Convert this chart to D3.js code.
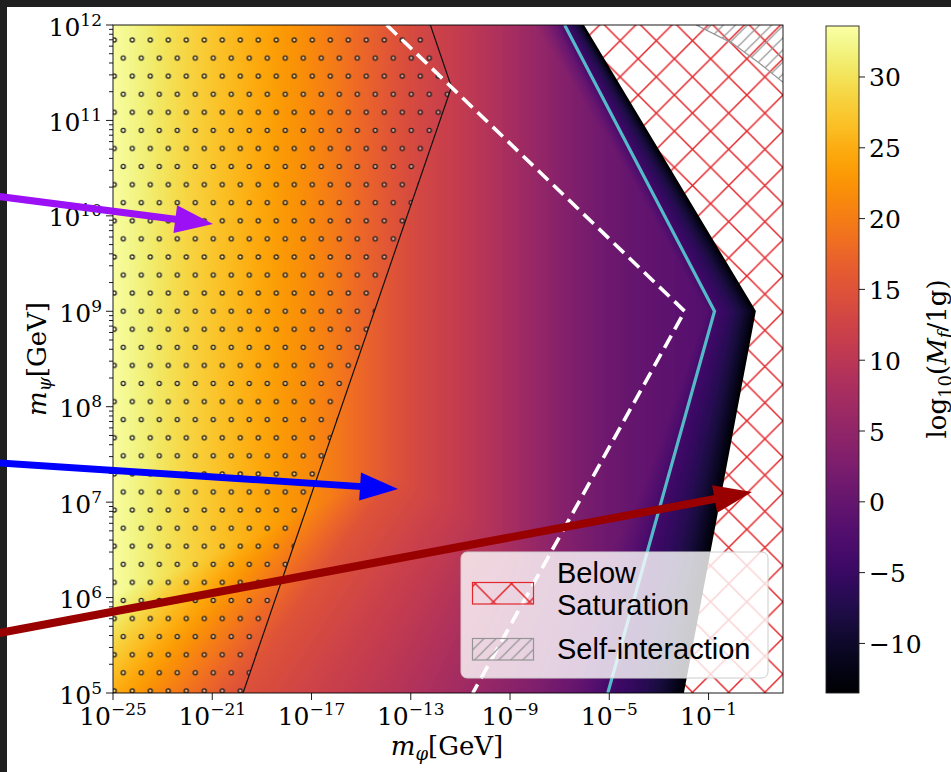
<!DOCTYPE html>
<html><head><meta charset="utf-8">
<script src="https://cdn.jsdelivr.net/npm/d3@7"></script>
<style>html,body{margin:0;padding:0;background:#fff;} svg{display:block;}</style>
</head><body>
<svg id="chart" width="951" height="772"></svg>
<script>
// ---------------- data ----------------
const xTickExps = [-25, -21, -17, -13, -9, -5, -1];
const yTickExps = [5, 6, 7, 8, 9, 10, 11, 12];
const cbTicks = [-10, -5, 0, 5, 10, 15, 20, 25, 30];
const cbRange = [-13.5, 33.6];
// log10(M_f/1g) read along m_phi (log10 GeV), away from the saturation edge
const baseX = [-25,-24,-23,-22,-21,-20,-19,-18,-17,-16,-15,-14,-13,-12,-11,-10,-9,-8,-7,-6,-5,-4,-3,-2,-1,0,1,2];
const baseV = [33.3,31.8,30.2,28.7,27.3,25.8,24.3,22.8,21.3,19.6,17.6,15.6,13.8,12.4,11.0,9.4,7.6,5.7,3.9,2.3,0.9,-0.1,-0.8,-1.4,-2.1,-2.8,-3.4,-4.0];
// log10(M_f/1g) across the edge: s = 0 on the saturation edge, s = 1 on the cyan contour
const edgeS = [0, 0.25, 0.5, 0.75, 1, 1.25, 1.5, 2, 2.5, 3, 4, 6, 10];
const edgeV = [-12.8, -9.4, -7.0, -5.3, -3.8, -1.6, 0.3, 3, 5, 7, 10, 15, 40];
// curves, [log10 m_phi, log10 m_psi]
const satBoundary = [[-6.07, 12], [0.86, 9], [-2.04, 5]];
const cyanLine = [[-6.8, 12], [-0.76, 9], [-5.06, 5]];
const whiteDashed = [[-13.97, 12], [-1.96, 9], [-10.5, 5]];
const dotContour = [[-12.21, 12], [-11.36, 11.35], [-19.76, 5]];
const selfInt = [[-1.5, 12], [-0.05, 11.81], [1.05, 11.6], [2, 11.4]];
const arrowDefs = [
  {color: "#9b10f5", width: 7, from: [-29.8, 10.21], to: [-20.97, 9.914]},
  {color: "#0000ff", width: 7, from: [-29.8, 7.414], to: [-13.515, 7.138]},
  {color: "#990000", width: 8, from: [-29.8, 5.618], to: [0.751, 7.106]}
];
const legendItems = [
  {lines: ["Below", "Saturation"], kind: "red"},
  {lines: ["Self-interaction"], kind: "gray"}
];

// ---------------- setup ----------------
const W = 951, H = 772;
const M = {left: 113, right: 783, top: 25, bottom: 693};
const xS = d3.scaleLog().domain([1e-25, 1e2]).range([M.left, M.right]);
const yS = d3.scaleLog().domain([1e5, 1e12]).range([M.bottom, M.top]);
const cS = d3.scaleLinear().domain(cbRange).range([M.bottom, M.top + 1]);
const color = d3.scaleSequential(d3.interpolateInferno).domain(cbRange);
const P = p => [xS(Math.pow(10, p[0])), yS(Math.pow(10, p[1]))];
const serif = "DejaVu Serif";
const sans = "Liberation Sans";

const svg = d3.select("#chart");
const defs = svg.append("defs");

// patterns
const dots = defs.append("pattern").attr("id", "dots").attr("patternUnits", "userSpaceOnUse")
  .attr("x", 114.3).attr("y", 40).attr("width", 18).attr("height", 36.16);
[[0,0],[18,0],[0,36.16],[18,36.16],[9,18.08]].forEach(c =>
  dots.append("circle").attr("cx", c[0]).attr("cy", c[1]).attr("r", 2.0)
    .attr("fill", "rgba(255,255,255,0.45)").attr("stroke", "#1e1e1e").attr("stroke-width", 1.3));

const redX = defs.append("pattern").attr("id", "redX").attr("patternUnits", "userSpaceOnUse")
  .attr("x", 783).attr("y", 95).attr("width", 36.2).attr("height", 36.2);
redX.append("path").attr("d", "M-1,-1L37.2,37.2M37.2,-1L-1,37.2")
  .attr("stroke", "#e3262b").attr("stroke-width", 1.5).attr("fill", "none");

const grayH = defs.append("pattern").attr("id", "grayH").attr("patternUnits", "userSpaceOnUse")
  .attr("x", 0).attr("y", 0).attr("width", 12.07).attr("height", 12.07);
grayH.append("path").attr("d", "M-1,13.07L13.07,-1M-4,4L4,-4M8.07,16.07L16.07,8.07")
  .attr("stroke", "#959595").attr("stroke-width", 1.2).attr("fill", "none");

defs.append("clipPath").attr("id", "plotClip").append("rect")
  .attr("x", M.left).attr("y", M.top).attr("width", M.right - M.left).attr("height", M.bottom - M.top);

svg.append("rect").attr("x", 0).attr("y", 0).attr("width", W).attr("height", H).attr("fill", "#fff");

// ---------------- field image ----------------
const byY = arr => arr.slice().sort((a, b) => a[1] - b[1]);
const bnd = byY(satBoundary), cyn = byY(cyanLine);
const bAtY = d3.scaleLinear().domain(bnd.map(d => d[1])).range(bnd.map(d => d[0]));
const cAtY = d3.scaleLinear().domain(cyn.map(d => d[1])).range(cyn.map(d => d[0]));
const baseS = d3.scaleLinear().domain(baseX).range(baseV);
const edgeSc = d3.scaleLinear().domain(edgeS).range(edgeV).clamp(true);

const FW = M.right - M.left, FH = M.bottom - M.top;
const canvas = document.createElement("canvas");
canvas.width = FW; canvas.height = FH;
const ctx = canvas.getContext("2d");
const img = ctx.createImageData(FW, FH);
const LUTN = 1024, lut = [];
for (let k = 0; k < LUTN; k++) {
  const c = d3.rgb(color(cbRange[0] + (cbRange[1] - cbRange[0]) * k / (LUTN - 1)));
  lut.push([c.r, c.g, c.b]);
}
const colLx = [], colB = [];
for (let i = 0; i < FW; i++) {
  const lx = Math.log10(xS.invert(M.left + i + 0.5));
  colLx.push(lx); colB.push(baseS(lx));
}
for (let j = 0; j < FH; j++) {
  const ly = Math.log10(yS.invert(M.top + j + 0.5));
  const b = bAtY(ly), c = cAtY(ly);
  for (let i = 0; i < FW; i++) {
    const s = (b - colLx[i]) / (b - c);
    const v = Math.min(colB[i], edgeSc(s));
    let t = (v - cbRange[0]) / (cbRange[1] - cbRange[0]);
    t = Math.max(0, Math.min(1, t));
    const cc = lut[Math.round(t * (LUTN - 1))];
    const o = (j * FW + i) * 4;
    img.data[o] = cc[0]; img.data[o + 1] = cc[1]; img.data[o + 2] = cc[2]; img.data[o + 3] = 255;
  }
}
ctx.putImageData(img, 0, 0);
svg.append("image").attr("x", M.left).attr("y", M.top).attr("width", FW).attr("height", FH)
  .attr("preserveAspectRatio", "none").attr("href", canvas.toDataURL());

const plot = svg.append("g").attr("clip-path", "url(#plotClip)");
const line = d3.line().x(d => P(d)[0]).y(d => P(d)[1]);

// dotted region
const dotPoly = [[-25, 12]].concat(dotContour, [[-25, 5]]);
plot.append("path").attr("d", line(dotPoly) + "Z").attr("fill", "url(#dots)");
plot.append("path").attr("d", line(dotContour)).attr("fill", "none").attr("stroke", "#111").attr("stroke-width", 1.2);

// contour lines
plot.append("path").attr("d", line(whiteDashed)).attr("fill", "none").attr("stroke", "#fff")
  .attr("stroke-width", 3.6).attr("stroke-dasharray", "14,7");
plot.append("path").attr("d", line(cyanLine)).attr("fill", "none").attr("stroke", "#55bac8")
  .attr("stroke-width", 3.2);

// below saturation region
const satPoly = satBoundary.concat([[2.2, 5], [2.2, 12]]);
plot.append("path").attr("d", line(satPoly) + "Z").attr("fill", "#fff");
plot.append("path").attr("d", line(satPoly) + "Z").attr("fill", "url(#redX)");
plot.append("path").attr("d", line(satBoundary)).attr("fill", "none").attr("stroke", "#000").attr("stroke-width", 2.2);

// self interaction region
const siPoly = selfInt.concat([[2.2, 11.4], [2.2, 12.2], [-1.5, 12.2]]);
plot.append("path").attr("d", line(siPoly) + "Z").attr("fill", "url(#grayH)");
plot.append("path").attr("d", line(selfInt)).attr("fill", "none").attr("stroke", "#959595").attr("stroke-width", 1.2);

// ---------------- axes ----------------
const ax = svg.append("g").attr("stroke", "#000").attr("stroke-width", 0.9);
ax.append("rect").attr("x", M.left).attr("y", M.top).attr("width", FW).attr("height", FH).attr("fill", "none");
xTickExps.forEach(e => {
  const x = xS(Math.pow(10, e));
  ax.append("line").attr("x1", x).attr("x2", x).attr("y1", M.bottom).attr("y2", M.bottom + 7);
});
yTickExps.forEach(e => {
  const y = yS(Math.pow(10, e));
  ax.append("line").attr("x1", M.left - 7).attr("x2", M.left).attr("y1", y).attr("y2", y);
  if (e < 12) for (let k = 2; k <= 9; k++) {
    const ym = yS(k * Math.pow(10, e));
    ax.append("line").attr("x1", M.left - 4).attr("x2", M.left).attr("y1", ym).attr("y2", ym);
  }
});
const minus = n => (n < 0 ? "\u2212" + Math.abs(n) : "" + n);
xTickExps.forEach(e => {
  const t = svg.append("text").attr("x", xS(Math.pow(10, e))).attr("y", 725)
    .attr("text-anchor", "middle").attr("font-family", serif).attr("font-size", 25).text("10");
  t.append("tspan").attr("dy", -10).attr("font-size", 17).text(minus(e));
});
yTickExps.forEach(e => {
  const t = svg.append("text").attr("x", 102).attr("y", yS(Math.pow(10, e)) + 10.5)
    .attr("text-anchor", "end").attr("font-family", serif).attr("font-size", 25).text("10");
  t.append("tspan").attr("dy", -10).attr("font-size", 17).text(minus(e));
});
const xl = svg.append("text").attr("x", 447).attr("y", 755).attr("text-anchor", "middle")
  .attr("font-family", serif).attr("font-size", 26);
xl.append("tspan").attr("font-style", "italic").text("m");
xl.append("tspan").attr("font-style", "italic").attr("font-size", 18).attr("dy", 5).text("\u03c6");
xl.append("tspan").attr("dy", -5).text("[GeV]");
const yl = svg.append("text").attr("transform", "translate(46,359) rotate(-90)").attr("text-anchor", "middle")
  .attr("font-family", serif).attr("font-size", 26);
yl.append("tspan").attr("font-style", "italic").text("m");
yl.append("tspan").attr("font-style", "italic").attr("font-size", 18).attr("dy", 5).text("\u03c8");
yl.append("tspan").attr("dy", -5).text("[GeV]");

// ---------------- legend ----------------
const lg = svg.append("g");
lg.append("rect").attr("x", 461).attr("y", 552).attr("width", 307).attr("height", 126).attr("rx", 6)
  .attr("fill", "#fff").attr("fill-opacity", 0.8).attr("stroke", "#cccccc").attr("stroke-width", 1);
const patchY = {red: 582.5, gray: 638.5};
const textY = {red: 583, gray: 659};
legendItems.forEach(it => {
  lg.append("rect").attr("x", 472.5).attr("y", patchY[it.kind]).attr("width", 61).attr("height", 21.5)
    .attr("fill", it.kind === "red" ? "url(#redX)" : "url(#grayH)")
    .attr("stroke", it.kind === "red" ? "#e3262b" : "#959595").attr("stroke-width", 1.2);
  it.lines.forEach((s, k) => {
    lg.append("text").attr("x", 557).attr("y", textY[it.kind] + k * 32).attr("font-family", sans)
      .attr("font-size", 29).attr("fill", "#000").text(s);
  });
});

// ---------------- colorbar ----------------
const grad = defs.append("linearGradient").attr("id", "cbGrad").attr("x1", 0).attr("x2", 0).attr("y1", 1).attr("y2", 0);
d3.range(0, 1.0001, 0.02).forEach(t => grad.append("stop").attr("offset", t)
  .attr("stop-color", color(cbRange[0] + t * (cbRange[1] - cbRange[0]))));
const cbX = 826, cbW = 33;
svg.append("rect").attr("x", cbX).attr("y", cS(cbRange[1])).attr("width", cbW)
  .attr("height", cS(cbRange[0]) - cS(cbRange[1])).attr("fill", "url(#cbGrad)")
  .attr("stroke", "#222").attr("stroke-width", 0.9);
cbTicks.forEach(v => {
  const y = cS(v);
  svg.append("line").attr("x1", cbX + cbW).attr("x2", cbX + cbW + 6).attr("y1", y).attr("y2", y)
    .attr("stroke", "#000").attr("stroke-width", 0.9);
  svg.append("text").attr("x", 869).attr("y", y + 9.5).attr("font-family", serif).attr("font-size", 25).text(minus(v));
});
const cl = svg.append("text").attr("transform", "translate(946,359) rotate(-90)").attr("text-anchor", "middle")
  .attr("font-family", serif).attr("font-size", 26);
cl.append("tspan").text("log");
cl.append("tspan").attr("font-size", 18).attr("dy", 6).text("10");
cl.append("tspan").attr("dy", -6).text("(");
cl.append("tspan").attr("font-style", "italic").text("M");
cl.append("tspan").attr("font-style", "italic").attr("font-size", 18).attr("dy", 5).text("f");
cl.append("tspan").attr("dy", -5).text("/1g)");

// ---------------- frame bands ----------------
svg.append("rect").attr("x", 0).attr("y", 0).attr("width", W).attr("height", 7).attr("fill", "#1f1f1f");
svg.append("rect").attr("x", 0).attr("y", 0).attr("width", 7).attr("height", H).attr("fill", "#1f1f1f");

// ---------------- arrows ----------------
arrowDefs.forEach(a => {
  const p0 = P(a.from), p1 = P(a.to);
  const dx = p1[0] - p0[0], dy = p1[1] - p0[1], L = Math.hypot(dx, dy);
  const ux = dx / L, uy = dy / L, nx = -uy, ny = ux;
  const hl = 38, hw = 14;
  const bx = p1[0] - ux * hl, by = p1[1] - uy * hl;
  svg.append("line").attr("x1", p0[0]).attr("y1", p0[1]).attr("x2", bx + ux * 2).attr("y2", by + uy * 2)
    .attr("stroke", a.color).attr("stroke-width", a.width);
  svg.append("path").attr("d", `M${p1[0]},${p1[1]}L${bx + nx * hw},${by + ny * hw}L${bx - nx * hw},${by - ny * hw}Z`)
    .attr("fill", a.color);
});
</script>
</body></html>
